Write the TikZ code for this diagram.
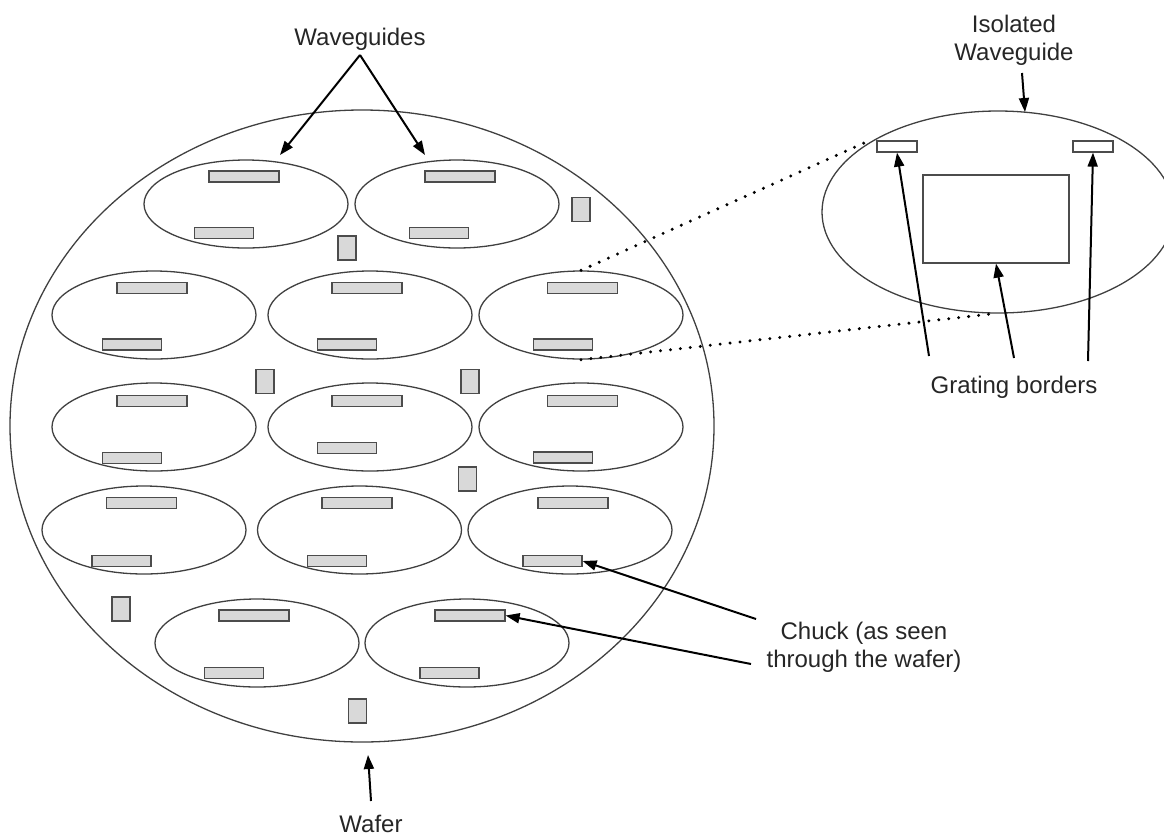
\documentclass[tikz,border=0pt]{standalone}
\usepackage{fontspec}
\setmainfont{Liberation Sans}
\usetikzlibrary{shapes.geometric,arrows.meta}
\tikzset{
  wg/.style={ellipse, draw=black!75, line width=1.3pt, minimum width=204pt, minimum height=88pt, inner sep=0pt},
  pad/.style={rectangle, draw=black!70, fill=black!15, line width=1.2pt, inner sep=0pt, minimum height=11pt},
  toppad/.style={pad, minimum width=70pt},
  botpad/.style={pad, minimum width=59pt},
  post/.style={rectangle, draw=black!70, fill=black!15, line width=1.2pt, inner sep=0pt, minimum width=18pt, minimum height=24pt},
  grat/.style={rectangle, draw=black!70, fill=white, line width=1.2pt, inner sep=0pt},
  lbl/.style={font=\fontsize{24}{28}\selectfont, text=black!85, align=center, inner sep=0pt},
  arr/.style={draw=black, line width=2pt, -{Triangle[length=14pt,width=10pt]}},
  dots/.style={draw=black, line width=3.3pt, line cap=round, dash pattern=on 0pt off 10pt},
}
\begin{document}
\begin{tikzpicture}[x=1pt,y=-1pt]
\useasboundingbox (0,0) rectangle (1164,839);
% wafer
\node[ellipse, draw=black!75, line width=1.3pt, minimum width=704pt, minimum height=632pt, inner sep=0pt] (wafer) at (362,426) {};
% row 1
\node[wg] (e11) at (246,204) {};
\node[wg] (e12) at (457,204) {};
\node[toppad] (t11) at (244,176.5) {};
\node[botpad] (b11) at (224,233) {};
\node[toppad] (t12) at (460,176.5) {};
\node[botpad] (b12) at (439,233) {};
% row 2
\node[wg] (e21) at (154,315) {};
\node[wg] (e22) at (370,315) {};
\node[wg] (e23) at (581,315) {};
\node[toppad] (t21) at (152,288) {};
\node[toppad] (t22) at (367,288) {};
\node[toppad] (t23) at (582.5,288) {};
\node[botpad] (b21) at (132,344.5) {};
\node[botpad] (b22) at (347,344.5) {};
\node[botpad] (b23) at (563,344.5) {};
% row 3
\node[wg] (e31) at (154,427) {};
\node[wg] (e32) at (370,427) {};
\node[wg] (e33) at (581,427) {};
\node[toppad] (t31) at (152,401) {};
\node[toppad] (t32) at (367,401) {};
\node[toppad] (t33) at (582.5,401) {};
\node[botpad] (b31) at (132,458) {};
\node[botpad] (b32) at (347,448) {};
\node[botpad] (b33) at (563,457.5) {};
% row 4
\node[wg] (e41) at (144,530) {};
\node[wg] (e42) at (359.5,530) {};
\node[wg] (e43) at (570,530) {};
\node[toppad] (t41) at (141.5,503) {};
\node[toppad] (t42) at (357,503) {};
\node[toppad] (t43) at (573,503) {};
\node[botpad] (b41) at (121.5,561) {};
\node[botpad] (b42) at (337,561) {};
\node[botpad] (b43) at (552.5,561) {};
% row 5
\node[wg] (e51) at (257,643) {};
\node[wg] (e52) at (467,643) {};
\node[toppad] (t51) at (254,615.5) {};
\node[toppad] (t52) at (470,615.5) {};
\node[botpad] (b51) at (234,673) {};
\node[botpad] (b52) at (449.5,673) {};
% posts
\node[post] (p1) at (347,248) {};
\node[post] (p2) at (581,209.5) {};
\node[post] (p3) at (265,381.5) {};
\node[post] (p4) at (470,381.5) {};
\node[post] (p5) at (467.5,479) {};
\node[post] (p6) at (121,609) {};
\node[post] (p7) at (357.5,711) {};
% isolated waveguide
\node[ellipse, draw=black!75, line width=1.3pt, minimum width=352pt, minimum height=202pt, inner sep=0pt] (iso) at (998,212) {};
\node[grat, minimum width=40pt, minimum height=11pt] (g1) at (897,146.5) {};
\node[grat, minimum width=40pt, minimum height=11pt] (g2) at (1093,146.5) {};
\node[grat, minimum width=146pt, minimum height=88pt] (g3) at (996,219) {};
% dotted zoom lines
\coordinate (zt) at (864,143);
\coordinate (zb) at (991,314);
\draw[dots] (e23.north) -- (zt);
\draw[dots] (e23.south) -- (zb);
% labels
\node[lbl] (lwg) at (360,39) {Waveguides};
\node[lbl] (liso) at (1014,40) {Isolated\\Waveguide};
\node[lbl] (lgr) at (1014,387) {Grating borders};
\node[lbl] (lch) at (864,647) {Chuck (as seen\\through the wafer)};
\node[lbl] (lwf) at (371,824) {Wafer};
% arrows
\coordinate (w0) at (360,55);
\coordinate (w1) at (280,155);
\coordinate (w2) at (425,155);
\draw[arr] (w0) -- (w1);
\draw[arr] (w0) -- (w2);
\coordinate (i0) at (1022,73);
\coordinate (i1) at (1025,112);
\draw[arr] (i0) -- (i1);
\coordinate (gA) at (929,356);
\coordinate (gB) at (1014,358);
\coordinate (gC) at (1088,361);
\draw[arr] (gA) -- (g1.south);
\draw[arr] (gB) -- (g3.south);
\draw[arr] (gC) -- (g2.south);
\coordinate (c1) at (756,619);
\coordinate (c2) at (751,664);
\draw[arr] (c1) -- (b43.east);
\draw[arr] (c2) -- (t52.east);
\coordinate (wf0) at (371,801);
\coordinate (wf1) at (368,755);
\draw[arr] (wf0) -- (wf1);
\end{tikzpicture}
\end{document}
